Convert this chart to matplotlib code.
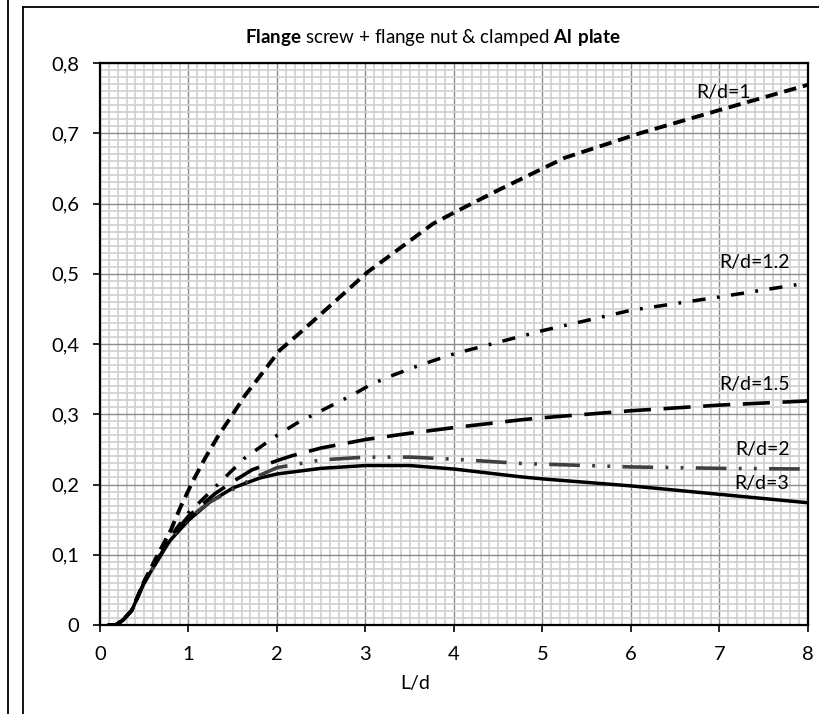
import numpy as np
import matplotlib
matplotlib.use('Agg')
import matplotlib.pyplot as plt
import matplotlib.ticker as mticker
from matplotlib.lines import Line2D

plt.rcParams['font.family'] = ['Lato', 'DejaVu Sans']
plt.rcParams['mathtext.fontset'] = 'custom'
plt.rcParams['mathtext.rm'] = 'Lato'
plt.rcParams['mathtext.bf'] = 'Lato:bold'

# data
x_r1 = [0.1, 0.18, 0.26, 0.36, 0.49, 0.64, 0.8, 0.91, 1.05, 1.19, 1.34, 1.5, 1.64, 1.8,
        2.03, 2.26, 2.5, 3.02, 3.76, 4.0, 4.5, 5.25, 6.1, 7.0, 8.0]
y_r1 = [0, 0, 0.007, 0.021, 0.06, 0.097, 0.135, 0.168, 0.205, 0.238, 0.27, 0.3, 0.327, 0.353,
        0.391, 0.416, 0.443, 0.502, 0.571, 0.587, 0.619, 0.665, 0.70, 0.733, 0.769]

x_r12 = [0.1, 0.18, 0.26, 0.36, 0.49, 0.64, 0.79, 1.0, 1.12, 1.46, 1.63, 1.83, 2.0, 2.22,
         2.5, 2.86, 3.07, 3.3, 3.53, 3.76, 4.0, 5.0, 6.0, 7.0, 8.0]
y_r12 = [0, 0, 0.007, 0.021, 0.058, 0.092, 0.125, 0.16, 0.174, 0.216, 0.237, 0.255, 0.27, 0.287,
         0.305, 0.328, 0.343, 0.355, 0.366, 0.376, 0.386, 0.419, 0.448, 0.467, 0.487]

x_r15 = [0.1, 0.18, 0.26, 0.36, 0.49, 0.64, 0.79, 1.0, 1.3, 1.5, 1.72, 2.0, 2.17, 2.5, 3.0,
         3.5, 4.0, 4.75, 5.0, 6.0, 7.0, 8.0]
y_r15 = [0, 0, 0.007, 0.021, 0.058, 0.09, 0.123, 0.155, 0.187, 0.204, 0.221, 0.234, 0.241, 0.252, 0.264,
         0.273, 0.281, 0.292, 0.295, 0.305, 0.313, 0.319]

x_r2 = [0.1, 0.18, 0.26, 0.36, 0.49, 0.64, 0.79, 1.0, 1.24, 1.5, 1.75, 2.0, 2.5, 3.0, 3.5,
        4.0, 4.75, 6.0, 7.0, 8.0]
y_r2 = [0, 0, 0.007, 0.021, 0.058, 0.09, 0.122, 0.152, 0.175, 0.193, 0.21, 0.224, 0.235, 0.239, 0.239,
        0.236, 0.23, 0.225, 0.223, 0.222]

x_r3 = [0.1, 0.18, 0.26, 0.36, 0.49, 0.64, 0.79, 1.0, 1.24, 1.5, 1.8, 2.0, 2.5, 3.0, 3.5,
        4.0, 4.75, 5.0, 6.0, 7.0, 8.0]
y_r3 = [0, 0, 0.007, 0.021, 0.058, 0.09, 0.12, 0.149, 0.175, 0.195, 0.209, 0.215, 0.223, 0.227, 0.227,
        0.222, 0.211, 0.208, 0.198, 0.186, 0.174]

xticks = [0, 1, 2, 3, 4, 5, 6, 7, 8]
yticks = [0, 0.1, 0.2, 0.3, 0.4, 0.5, 0.6, 0.7, 0.8]
ytick_labels = ['0', '0,1', '0,2', '0,3', '0,4', '0,5', '0,6', '0,7', '0,8']

fig = plt.figure(figsize=(8.2, 7.14), dpi=100, facecolor='white')
ax = fig.add_axes([100/820, 89/714, 708/820, 562/714])

#Grid==============================================================
ax.set_xlim(0, 8)
ax.set_ylim(0, 0.8)
ax.xaxis.set_minor_locator(mticker.MultipleLocator(0.1))
ax.yaxis.set_minor_locator(mticker.MultipleLocator(0.01))
ax.grid(which='minor', color='#d0d0d0', linewidth=1.2, zorder=0)
ax.grid(which='major', color='#8a8a8a', linewidth=1.0, zorder=0.5)
ax.set_axisbelow(True)

#Curves============================================================
ax.plot(x_r3, y_r3, color='black', lw=2.5, solid_joinstyle='round', zorder=3)
ax.plot(x_r2, y_r2, color='#404040', lw=2.6, linestyle=(0, (8.5, 3.4, 0.8, 3.4, 0.8, 3.4)), zorder=3)
ax.plot(x_r15, y_r15, color='black', lw=2.6, linestyle=(0, (7.5, 3.5)), zorder=3)
ax.plot(x_r12, y_r12, color='black', lw=2.5, linestyle=(0, (3.8, 3.3, 0.8, 3.3)), zorder=3)
ax.plot(x_r1, y_r1, color='black', lw=2.8, linestyle=(0, (3.2, 1.75)), zorder=3)

lab_kw = dict(fontsize=14, ha='right', va='center', color='black', zorder=4)
ax.text(7.36, 0.758, 'R/d=1', **lab_kw)
ax.text(7.79, 0.516, 'R/d=1.2', **lab_kw)
ax.text(7.79, 0.343, 'R/d=1.5', **lab_kw)
ax.text(7.79, 0.250, 'R/d=2', **lab_kw)
ax.text(7.79, 0.202, 'R/d=3', **lab_kw)

#Axes==============================================================
for sp in ax.spines.values():
    sp.set_color('black')
    sp.set_linewidth(1.6)
ax.set_xticks(xticks)
ax.set_yticks(yticks)
ax.set_yticklabels(ytick_labels)
ax.tick_params(which='major', direction='out', length=5, width=1.2, colors='black',
               labelsize=14.5, pad=10)
ax.tick_params(which='minor', length=0)

fig.text(415/820, 1 - 683/714, 'L/d', fontsize=14, ha='center', va='center')
fig.text(433/820, 1 - 37/714, r'$\bf{Flange}$ screw + flange nut & clamped $\bf{Al\ plate}$',
         fontsize=13.5, ha='center', va='center')

# frame lines of the chart area
fig.add_artist(Line2D([8/820, 8/820], [0, 1], color='black', lw=1.3, transform=fig.transFigure))
fig.add_artist(Line2D([23/820, 23/820], [0, 1 - 7/714], color='black', lw=1.3, transform=fig.transFigure))
fig.add_artist(Line2D([23/820, 1], [1 - 7/714, 1 - 7/714], color='black', lw=1.3, transform=fig.transFigure))

fig.savefig('out.png', dpi=100, facecolor='white')
